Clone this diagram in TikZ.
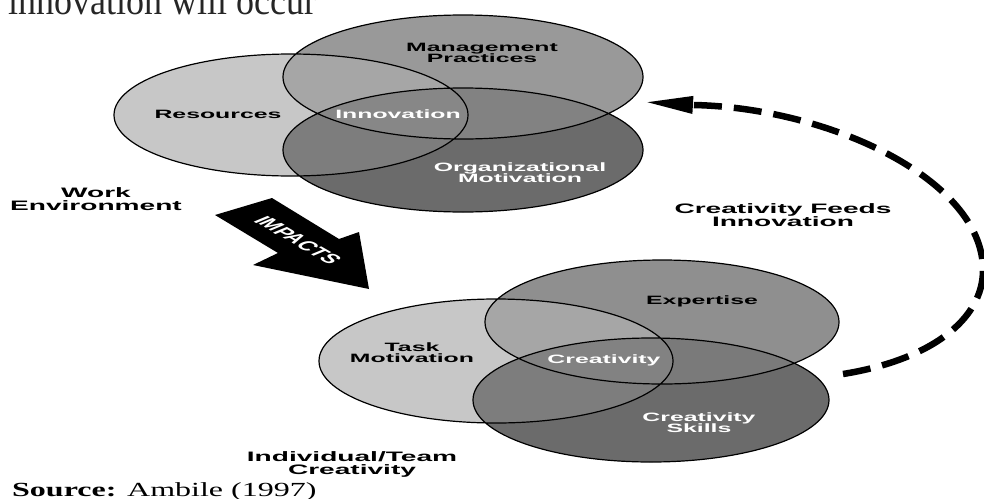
\documentclass[tikz,border=0pt]{standalone}
\usepackage{fontspec}
\setmainfont{Liberation Serif}
\newfontfamily\lblfont{Liberation Sans}[FakeStretch=2.05]
\newfontfamily\srcfont{Liberation Serif}[FakeStretch=1.6]
\newfontfamily\headfont{Liberation Serif}[FakeStretch=0.9]
\newfontfamily\arrowfont{Liberation Sans}
\usetikzlibrary{arrows.meta}

% the six sets, in pixels from the top left corner
\newcommand{\resset}{(291,115) ellipse [x radius=177pt, y radius=61pt]}
\newcommand{\mgmtset}{(463,77) ellipse [x radius=180pt, y radius=62pt]}
\newcommand{\orgset}{(463,150) ellipse [x radius=180pt, y radius=62pt]}
\newcommand{\taskset}{(496,361) ellipse [x radius=177pt, y radius=62pt]}
\newcommand{\expset}{(662,322) ellipse [x radius=177pt, y radius=62pt]}
\newcommand{\skillset}{(651,400) ellipse [x radius=178pt, y radius=62pt]}

\tikzset{
  setline/.style={draw=black, line width=1.2pt},
  inlabel/.style={font=\lblfont\bfseries\fontsize{12.1}{11.5}\selectfont,
    align=center, inner sep=0pt},
  outlabel/.style={font=\lblfont\bfseries\fontsize{13.7}{13}\selectfont,
    align=center, inner sep=0pt},
  feedback/.style={line width=6.5pt, dash pattern=on 28pt off 12pt,
    -{Triangle[length=49pt, width=16pt]}},
}

\begin{document}
\begin{tikzpicture}[x=1pt, y=-1pt]
  \useasboundingbox (0,0) rectangle (984,498);

  \node[anchor=base west, inner sep=0pt, text=black!85,
    font=\headfont\fontsize{40}{40}\selectfont] (heading) at (8,14) {innovation will occur};

  % work environment
  \fill[black!22] \resset;
  \fill[black!40] \mgmtset;
  \fill[black!58] \orgset;
  \begin{scope}
    \clip \mgmtset;
    \fill[black!49] \orgset;
  \end{scope}
  \begin{scope}
    \clip \resset;
    \fill[black!35] \mgmtset;
    \fill[black!51] \orgset;
    \clip \mgmtset;
    \fill[black!47] \orgset;
  \end{scope}
  \draw[setline] \resset \mgmtset \orgset;

  % individual / team creativity
  \fill[black!22] \taskset;
  \fill[black!44] \expset;
  \fill[black!58] \skillset;
  \begin{scope}
    \clip \expset;
    \fill[black!52] \skillset;
  \end{scope}
  \begin{scope}
    \clip \taskset;
    \fill[black!35] \expset;
    \fill[black!51] \skillset;
    \clip \expset;
    \fill[black!49] \skillset;
  \end{scope}
  \draw[setline] \taskset \expset \skillset;

  \node[inlabel] (mgmt) at (482,53) {Management\\Practices};
  \node[inlabel] (res) at (218,114) {Resources};
  \node[inlabel, text=white] (innov) at (398,114) {Innovation};
  \node[inlabel, text=white] (orgmot) at (520,172.5) {Organizational\\Motivation};
  \node[outlabel] (workenv) at (96,199) {Work\\Environment};

  \node[inlabel] (exp) at (702,301) {Expertise};
  \node[inlabel] (taskmot) at (412,352.5) {Task\\Motivation};
  \node[inlabel, text=white] (creat) at (604,360) {Creativity};
  \node[inlabel, text=white] (skills) at (699,422.5) {Creativity\\Skills};
  \node[outlabel] (indiv) at (352,464) {Individual/Team\\Creativity};

  % block arrow
  \fill (215,215) -- (272,198) -- (339,239) -- (359,232) -- (369,289)
    -- (253,265) -- (278,253) -- cycle;
  \begin{scope}[shift={(298,240)}, xscale=2.05]
    \node[rotate=-49.5, transform shape, text=white, inner sep=0pt,
      font=\arrowfont\bfseries\fontsize{13}{13}\selectfont] (impacts) at (0,0) {IMPACTS};
  \end{scope}

  % feedback loop
  \node[outlabel] (feeds) at (783,215.5) {Creativity Feeds\\Innovation};
  \coordinate (feedstart) at (843,374);
  \coordinate (feedend) at (644,102);
  \draw[feedback] (feedstart) .. controls (930,360) and (983,320) .. (983,270)
    .. controls (983,180) and (830,108) .. (694,105) -- (feedend);

  \node[anchor=base west, inner sep=0pt, font=\srcfont\fontsize{20}{20}\selectfont]
    (source) at (12,496) {\textbf{Source:} Ambile (1997)};
\end{tikzpicture}
\end{document}
